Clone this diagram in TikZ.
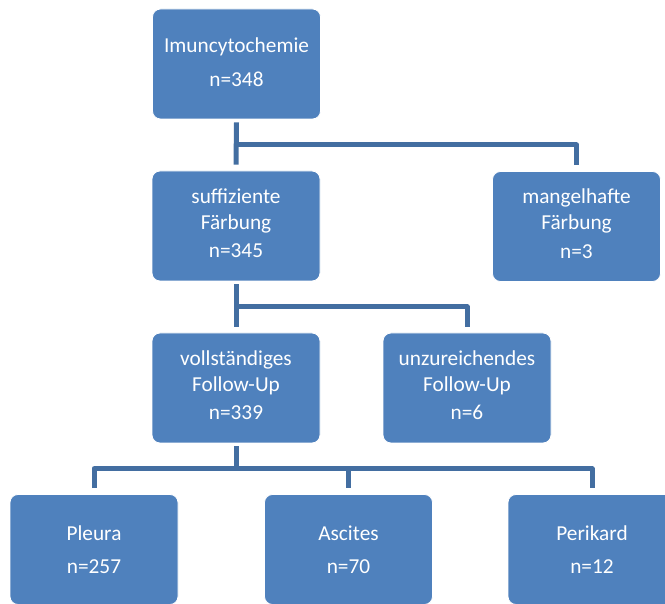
\documentclass[tikz,border=0pt]{standalone}
\usepackage{fontspec}
\setmainfont{Carlito}
\usetikzlibrary{calc}
\definecolor{boxblue}{RGB}{79,129,189}
\definecolor{lineblue}{RGB}{67,110,161}
\tikzset{
  box/.style={rectangle, rounded corners=8pt, fill=boxblue, draw=white, line width=0.8pt,
    minimum width=168pt, minimum height=110pt, inner sep=0pt},
  lbl/.style={anchor=base, text=white, inner sep=0pt, font=\fontsize{21.3}{25}\selectfont},
  conn/.style={draw=lineblue, line width=5pt, line join=round}
}
\begin{document}
\begin{tikzpicture}[x=1pt,y=-1pt]
\useasboundingbox (0,0) rectangle (665,604);
\clip (0,0) rectangle (665,604);
% boxes
\node[box] (n1) at (236.5,64) {};
\node[box] (n2) at (236,226) {};
\node[box] (n3) at (576.5,226.5) {};
\node[box] (n4) at (236,388) {};
\node[box] (n5) at (467,388) {};
\node[box] (n6) at (94,549.5) {};
\node[box] (n7) at (348.5,549.5) {};
\node[box] (n8) at (592,549.5) {};
% texts
\node[lbl] (t1a) at ($(n1.center)+(0,-11)$) {Imuncytochemie};
\node[lbl] (t1b) at ($(n1.center)+(0,23)$) {n=348};
\node[lbl] (t2a) at ($(n2.center)+(0,-22.5)$) {suffiziente};
\node[lbl] (t2b) at ($(n2.center)+(0,3.5)$) {Färbung};
\node[lbl] (t2c) at ($(n2.center)+(0,32)$) {n=345};
\node[lbl] (t3a) at ($(n3.center)+(0,-22.5)$) {mangelhafte};
\node[lbl] (t3b) at ($(n3.center)+(0,3.5)$) {Färbung};
\node[lbl] (t3c) at ($(n3.center)+(0,32)$) {n=3};
\node[lbl] (t4a) at ($(n4.center)+(0,-22.5)$) {vollständiges};
\node[lbl] (t4b) at ($(n4.center)+(0,3.5)$) {Follow-Up};
\node[lbl] (t4c) at ($(n4.center)+(0,32)$) {n=339};
\node[lbl] (t5a) at ($(n5.center)+(0,-22.5)$) {unzureichendes};
\node[lbl] (t5b) at ($(n5.center)+(0,3.5)$) {Follow-Up};
\node[lbl] (t5c) at ($(n5.center)+(0,32)$) {n=6};
\node[lbl] (t6a) at ($(n6.center)+(0,-9.5)$) {Pleura};
\node[lbl] (t6b) at ($(n6.center)+(0,23.5)$) {n=257};
\node[lbl] (t7a) at ($(n7.center)+(0,-9.5)$) {Ascites};
\node[lbl] (t7b) at ($(n7.center)+(0,23.5)$) {n=70};
\node[lbl] (t8a) at ($(n8.center)+(0,-9.5)$) {Perikard};
\node[lbl] (t8b) at ($(n8.center)+(0,23.5)$) {n=12};
% branch coordinates
\coordinate (b1) at ($(n1.south)!0.5!(n2.north)$);
\coordinate (b2) at ($(n2.south)!0.5!(n4.north)$);
\coordinate (b3) at ($(n4.south)!0.5!(n7.north)$);
% connectors
\draw[conn] ([yshift=-3pt]n1.south) -- ([yshift=6pt]n2.north);
\draw[conn] (b1) -| ([yshift=6pt]n3.north);
\draw[conn] ([yshift=-3pt]n2.south) -- ([yshift=6pt]n4.north);
\draw[conn] (b2) -| ([yshift=6pt]n5.north);
\draw[conn] ([yshift=-3pt]n4.south) -- (n4.south |- b3);
\draw[conn] ([yshift=6pt]n6.north) |- (b3) -| ([yshift=6pt]n8.north);
\draw[conn] (b3 -| n7.north) -- ([yshift=6pt]n7.north);
\end{tikzpicture}
\end{document}
